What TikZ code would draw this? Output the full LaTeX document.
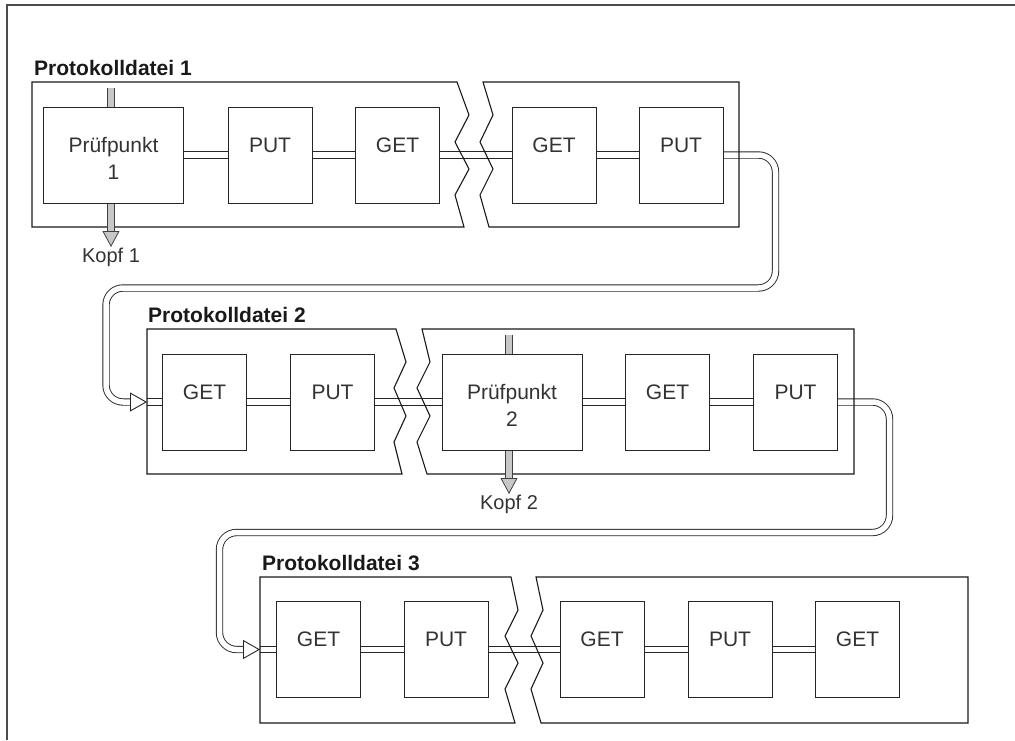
\documentclass[tikz,border=0pt]{standalone}
\usepackage{fontspec}
\setmainfont{Liberation Sans}
\usetikzlibrary{arrows.meta, backgrounds}

\begin{document}
\begin{tikzpicture}[
    x=1pt, y=-1pt,
    entry/.style={draw=black!85, fill=white, line width=0.8pt, minimum width=84pt, minimum height=96pt, inner sep=0pt, align=center, text height=15pt, text depth=21pt, font=\fontsize{21}{27}\selectfont, text=black!80},
    wide/.style={entry, minimum width=140pt, text height=48pt, text depth=0pt},
    title/.style={anchor=base west, inner sep=0pt, font=\fontsize{21}{25}\selectfont\bfseries, text=black!90},
    head/.style={anchor=north, inner sep=1pt, font=\fontsize{20}{24}\selectfont, text=black!80},
    link/.style={draw=black!85, line width=0.9pt, double=white, double distance=5.5pt},
    handover/.style={link, rounded corners=17pt, -{Triangle[length=17pt, width=19pt, fill=white, line width=0.9pt]}},
    frame/.style={draw=black!90, line width=1.1pt, line join=miter},
    kopf/.style={draw=black!75, line width=0.8pt, double=black!22, double distance=6pt, -{Triangle[length=16pt, width=17pt, fill=black!22, line width=0.8pt]}},
]
    \useasboundingbox (0,0) rectangle (1015,740);

    % Protokolldatei 1
    \node[title] (file1) at (34,75) {Protokolldatei 1};
    \node[wide]  (chk1) at (113.5,155) {Prüfpunkt\\1};
    \node[entry] (put1) at (270,155) {PUT};
    \node[entry] (get1) at (397.5,155) {GET};
    \node[entry] (get2) at (554,155) {GET};
    \node[entry] (put2) at (681,155) {PUT};
    \coordinate (bar1) at (111,88);
    \node[head] (kopf1) at (111,247) {Kopf 1};

    % Protokolldatei 2
    \node[title] (file2) at (148,322.5) {Protokolldatei 2};
    \node[entry] (get3) at (204.5,402) {GET};
    \node[entry] (put3) at (332.5,402) {PUT};
    \node[wide]  (chk2) at (512,402) {Prüfpunkt\\2};
    \node[entry] (get4) at (667.5,402) {GET};
    \node[entry] (put4) at (795.5,402) {PUT};
    \coordinate (in2) at (147,402);
    \coordinate (bar2) at (509,335);
    \node[head] (kopf2) at (509,494) {Kopf 2};

    % Protokolldatei 3
    \node[title] (file3) at (262,570.5) {Protokolldatei 3};
    \node[entry] (get5) at (318.5,649.5) {GET};
    \node[entry] (put5) at (446,649.5) {PUT};
    \node[entry] (get6) at (602,649.5) {GET};
    \node[entry] (put6) at (730,649.5) {PUT};
    \node[entry] (get7) at (857.5,649.5) {GET};
    \coordinate (in3) at (260,649.5);

    \begin{pgfonlayer}{background}
        % records
        \draw[link] (chk1) -- (put1);
        \draw[link] (put1) -- (get1);
        \draw[link] (get1) -- (get2);
        \draw[link] (get2) -- (put2);
        \draw[link] (in2) -- (get3);
        \draw[link] (get3) -- (put3);
        \draw[link] (put3) -- (chk2);
        \draw[link] (chk2) -- (get4);
        \draw[link] (get4) -- (put4);
        \draw[link] (in3) -- (get5);
        \draw[link] (get5) -- (put5);
        \draw[link] (put5) -- (get6);
        \draw[link] (get6) -- (put6);
        \draw[link] (put6) -- (get7);

        % on to the next file
        \draw[handover] (put2.east) -- (775.5,155) -- (775.5,288) -- (106,288) -- (106,402) -- (in2);
        \draw[handover] (put4.east) -- (889.5,402) -- (889.5,532.5) -- (219.5,532.5) -- (219.5,649.5) -- (in3);

        % broken frames
        \draw[frame] (32,82) -- (457,82) -- ++(12,33) -- ++(-14,27) -- ++(14,27) -- ++(-14,26) -- ++(9,32) -- (32,227) -- cycle;
        \draw[frame] (483,82) -- (739,82) -- (739,227) -- (489,227) -- ++(-9,-32) -- ++(13,-26) -- ++(-13,-27) -- ++(13,-27) -- cycle;
        \draw[frame] (147,329) -- (396,329) -- ++(10,33) -- ++(-12,26) -- ++(12,28) -- ++(-12,26) -- ++(8,32) -- (147,474) -- cycle;
        \draw[frame] (422,329) -- (854,329) -- (854,474) -- (427,474) -- ++(-10,-32) -- ++(13,-26) -- ++(-13,-28) -- ++(13,-26) -- cycle;
        \draw[frame] (260,577) -- (511,577) -- ++(7,33) -- ++(-13,26) -- ++(13,27) -- ++(-13,26) -- ++(10,34) -- (260,723) -- cycle;
        \draw[frame] (536,577) -- (968,577) -- (968,723) -- (541,723) -- ++(-10,-34) -- ++(12,-26) -- ++(-12,-27) -- ++(12,-26) -- cycle;

        % heads
        \draw[kopf] (bar1) -- (kopf1.north);
        \draw[kopf] (bar2) -- (kopf2.north);
    \end{pgfonlayer}

    \draw[draw=black!70, line width=1.4pt] (7,740) -- (7,5) -- (1015,5);
\end{tikzpicture}
\end{document}
